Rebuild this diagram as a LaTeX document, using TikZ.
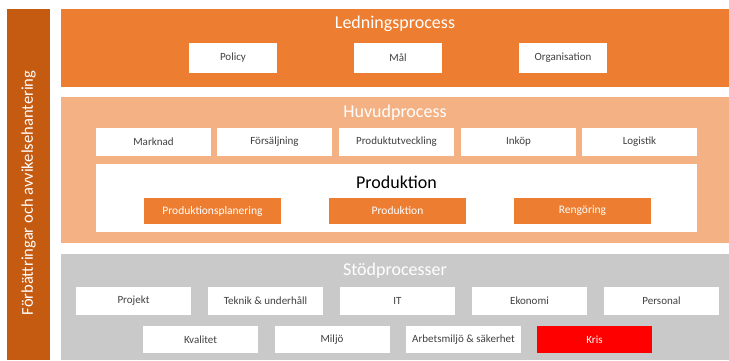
\documentclass[tikz,border=0pt]{standalone}
\usepackage{fontspec}
\setmainfont{Carlito}
\definecolor{ledorange}{HTML}{ED7D31}
\definecolor{bardark}{HTML}{C55A11}
\definecolor{huvudlight}{HTML}{F4B183}
\definecolor{stodgrey}{HTML}{C9C9C9}
\definecolor{krisred}{HTML}{FF0000}
\definecolor{boxtext}{HTML}{404040}
\tikzset{band/.style={rectangle, anchor=north west, inner sep=0pt, outer sep=0pt}}
\tikzset{cell/.style={rectangle, fill=white, inner sep=0pt, outer sep=0pt,
   minimum width=115pt, minimum height=28pt,
   text=boxtext, font=\fontsize{11}{11}\selectfont}}
\tikzset{ocell/.style={cell, fill=ledorange, text=white,
   minimum width=137pt, minimum height=26pt, font=\fontsize{11.5}{11.5}\selectfont}}
\tikzset{title/.style={text=white, inner sep=0pt, font=\fontsize{18}{18}\selectfont}}

\begin{document}
\begin{tikzpicture}[x=1pt, y=-1pt]

    \useasboundingbox (0,0) rectangle (729,360);

    % side bar
    \node[band, fill=bardark, minimum width=43pt, minimum height=351pt] (bar) at (7,9) {};
    \node[rotate=90, text=white, font=\fontsize{16.5}{16.5}\selectfont] (bartext) at (28.5,193)
        {Förbättringar och avvikelsehantering};

    % Ledningsprocess
    \node[band, fill=ledorange, minimum width=668pt, minimum height=78pt] (led) at (61,9) {};
    \node[title] (ledtitle) at (395,24) {Ledningsprocess};
    \node[cell, minimum width=88pt, minimum height=30pt] (policy) at (233,58) {Policy};
    \node[cell, minimum width=88pt, minimum height=30pt] (mal) at (398,58) {Mål};
    \node[cell, minimum width=88pt, minimum height=30pt] (org) at (563,58) {Organisation};

    % Huvudprocess
    \node[band, fill=huvudlight, minimum width=668pt, minimum height=146pt] (huvud) at (61,97) {};
    \node[title] (huvudtitle) at (395,113) {Huvudprocess};
    \node[cell] (marknad) at (153.5,142) {Marknad};
    \node[cell] (forsalj) at (274.5,142) {Försäljning};
    \node[cell] (produtv) at (396.5,142) {Produktutveckling};
    \node[cell] (inkop) at (518.5,142) {Inköp};
    \node[cell] (logistik) at (639.5,142) {Logistik};
    \node[cell, minimum width=601pt, minimum height=68pt] (prod) at (396.5,198) {};
    \node[inner sep=0pt, font=\fontsize{18}{18}\selectfont] (prodtitle) at (396.5,182) {Produktion};
    \node[ocell] (prodplan) at (212.5,211) {Produktionsplanering};
    \node[ocell] (produktion) at (397.5,211) {Produktion};
    \node[ocell] (rengor) at (582.5,211) {Rengöring};

    % Stödprocesser
    \node[band, fill=stodgrey, minimum width=668pt, minimum height=106pt] (stod) at (61,254) {};
    \node[title] (stodtitle) at (395,271) {Stödprocesser};
    \node[cell] (projekt) at (133.5,300.5) {Projekt};
    \node[cell] (teknik) at (265.5,300.5) {Teknik \& underhåll};
    \node[cell] (it) at (397.5,300.5) {IT};
    \node[cell] (ekonomi) at (529.5,300.5) {Ekonomi};
    \node[cell] (personal) at (661.5,300.5) {Personal};
    \node[cell, minimum height=27pt] (kvalitet) at (200.5,339.5) {Kvalitet};
    \node[cell, minimum height=27pt] (miljo) at (332,339.5) {Miljö};
    \node[cell, minimum height=27pt] (arbmiljo) at (463.5,339.5) {Arbetsmiljö \& säkerhet};
    \node[cell, minimum height=27pt, fill=krisred, text=white] (kris) at (594.5,339.5) {Kris};

  \end{tikzpicture}
\end{document}
